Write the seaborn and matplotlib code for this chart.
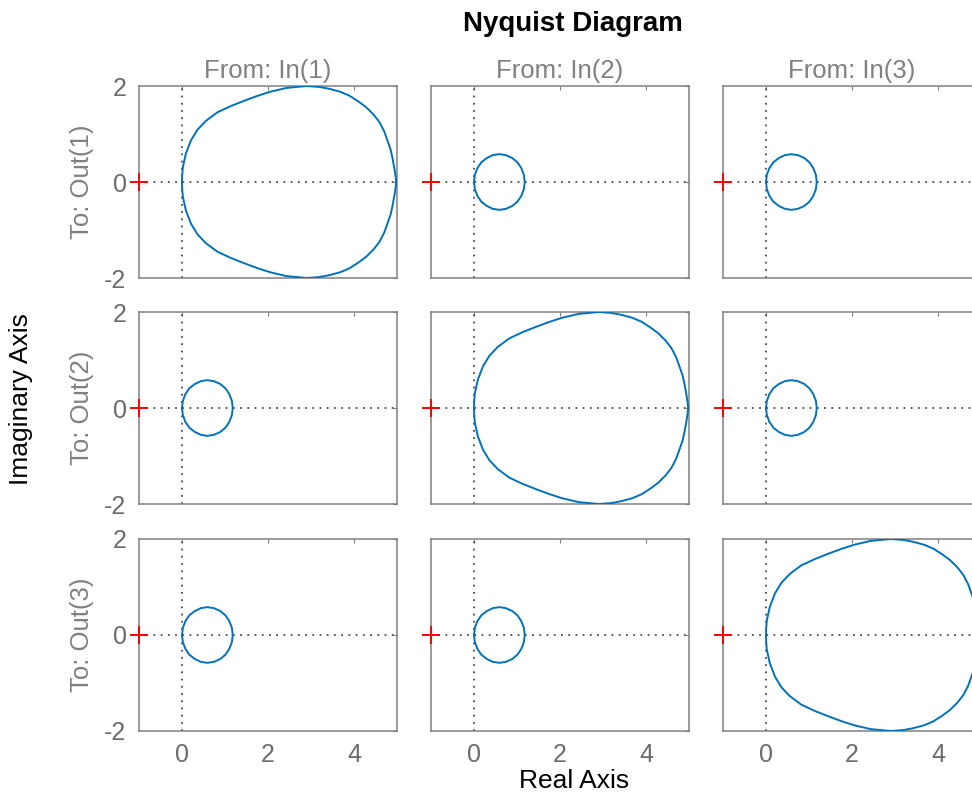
import numpy as np
import pandas as pd
import matplotlib
matplotlib.use("Agg")
import matplotlib.pyplot as plt
import seaborn as sns

# Nyquist response (upper half, w >= 0); lower half is the mirror image
loop_re = [0.0, 0.005, 0.02, 0.09, 0.21, 0.36, 0.55, 0.82, 1.13, 1.44, 1.74, 2.05, 2.43,
           2.9, 3.2, 3.43, 3.68, 3.89, 4.1, 4.28, 4.45, 4.59, 4.7, 4.78, 4.85, 4.89,
           4.94, 4.97, 4.98]
loop_im = [0.0, 0.15, 0.31, 0.59, 0.87, 1.09, 1.27, 1.45, 1.58, 1.69, 1.79, 1.88, 1.96,
           2.0, 1.98, 1.94, 1.88, 1.8, 1.68, 1.56, 1.41, 1.25, 1.06, 0.86, 0.68, 0.52,
           0.28, 0.1, 0.0]

# small loops on the off-diagonal channels
circ_re = [0.0, 0.02, 0.08, 0.17, 0.3, 0.44, 0.59, 0.74, 0.89, 1.01, 1.1, 1.16, 1.18]
circ_im = [0.0, 0.15, 0.29, 0.41, 0.5, 0.56, 0.58, 0.56, 0.5, 0.41, 0.29, 0.15, 0.0]

inputs = ["In(1)", "In(2)", "In(3)"]
outputs = ["Out(1)", "Out(2)", "Out(3)"]
x_ticks = [0, 2, 4]
y_ticks = [-2, 0, 2]


def closed_curve(re, im):
    # positive freqs then the conjugate branch back
    re = np.asarray(re)
    im = np.asarray(im)
    return pd.DataFrame({"re": np.concatenate([re, re[::-1]]),
                         "im": np.concatenate([im, -im[::-1]])})


big = closed_curve(loop_re, loop_im)
small = closed_curve(circ_re, circ_im)

sns.set_theme(style="white")
plt.rcParams["font.family"] = ["Liberation Sans", "DejaVu Sans"]
plt.rcParams["axes.unicode_minus"] = False

W, H = 972, 796
fig = plt.figure(figsize=(W / 100, H / 100), dpi=100)

col_left = [139, 431, 723]
row_top = [86, 312, 539]
aw, ah = 258, 192

blue = "#0072BD"
gray_txt = "0.42"

for i, out in enumerate(outputs):
    for j, inp in enumerate(inputs):
        ax = fig.add_axes([col_left[j] / W, 1 - (row_top[i] + ah) / H, aw / W, ah / H])
        df = big if i == j else small
        ax.axvline(0, color="0.3", lw=1.3, ls=(0, (1, 3)), zorder=1)
        ax.axhline(0, color="0.3", lw=1.3, ls=(0, (1, 3)), zorder=1)
        sns.lineplot(data=df, x="re", y="im", sort=False, estimator=None, ax=ax,
                     color=blue, lw=1.4, zorder=3)
        ax.plot([-1], [0], marker="+", color="red", ms=13, mew=1.4, clip_on=False, zorder=5)
        ax.set_xlim(-1, 5)
        ax.set_ylim(-2, 2)
        ax.set_xticks(x_ticks)
        ax.set_yticks(y_ticks)
        ax.set_xlabel("")
        ax.set_ylabel("")
        ax.tick_params(direction="in", length=3, width=0.8, color="0.5",
                       top=True, right=True, labelsize=18, labelcolor=gray_txt, pad=9)
        if i < 2:
            ax.set_xticklabels([])
        if j > 0:
            ax.set_yticklabels([])
        for sp in ax.spines.values():
            sp.set_color("0.5")
            sp.set_linewidth(1.1)
        if i == 0:
            ax.set_title("From: " + inp, fontsize=18.5, color="0.5", pad=6)
        if j == 0:
            ax.text(-0.22, 0.5, "To: " + out, transform=ax.transAxes, rotation=90,
                    ha="center", va="center", fontsize=18.5, color="0.5")

fig.text(573 / W, 1 - 24 / H, "Nyquist Diagram", ha="center", va="center",
         fontsize=20, fontweight="bold", color="black")
fig.text(574 / W, 1 - 781 / H, "Real Axis", ha="center", va="center", fontsize=19, color="black")
fig.text(21 / W, 1 - 399 / H, "Imaginary Axis", ha="center", va="center", rotation=90,
         fontsize=19, color="black")

fig.savefig("out.png", dpi=100)
